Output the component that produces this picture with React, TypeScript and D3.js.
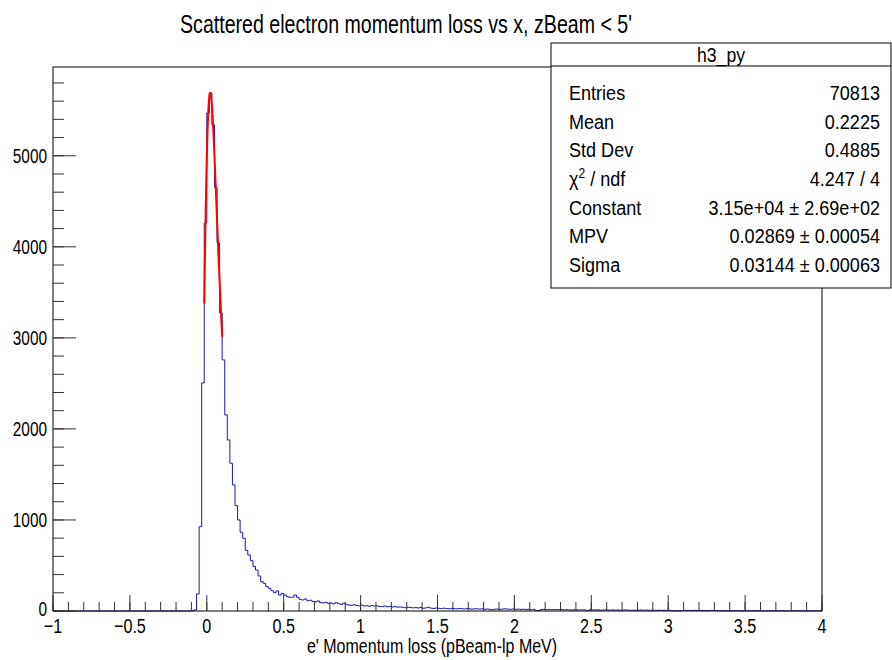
import React from 'react';
import * as d3 from 'd3';

// ---- data ----
const X_MIN = -1;
const X_MAX = 4;
const Y_MAX = 5975;

// 300 bins between -1 and 4
const binCounts: number[] = [
  // bins 0-53
  0, 0, 0, 0, 0, 0, 0, 0, 0, 0,
  0, 0, 0, 0, 0, 0, 0, 0, 0, 0,
  0, 0, 0, 0, 0, 0, 0, 0, 0, 0,
  0, 0, 0, 0, 0, 0, 0, 0, 0, 0,
  0, 0, 0, 0, 0, 0, 0, 0, 0, 0,
  0, 0, 0, 0,
  // bins 54-90
  3, 12, 187, 926, 2505, 4260, 5470, 5690, 5340, 4648,
  4044, 3275, 2758, 2154, 1879, 1623, 1385, 1157, 1000, 865,
  799, 665, 615, 553, 490, 450, 385, 322, 304, 267,
  249, 223, 201, 220, 176, 194, 176,
  // bins 91-299
  157, 150, 152, 176, 150, 128, 121, 132, 113, 118,
  105, 100, 110, 92, 88, 95, 84, 88, 78, 91,
  80, 72, 85, 70, 66, 62, 68, 60, 57, 64,
  55, 58, 52, 60, 54, 57, 50, 48, 55, 46,
  50, 44, 48, 42, 45, 40, 36, 42, 38, 35,
  37, 33, 38, 30, 34, 40, 32, 28, 33, 30,
  26, 31, 28, 25, 29, 27, 24, 28, 25, 22,
  26, 24, 20, 25, 23, 21, 24, 19, 22, 18,
  14, 20, 22, 18, 21, 24, 20, 19, 22, 18,
  21, 17, 20, 16, 19, 15, 18, 6, 5, 16,
  19, 15, 17, 14, 16, 15, 14, 16, 12, 15,
  13, 10, 14, 12, 11, 13, 12, 4, 14, 11,
  12, 13, 9, 10, 12, 11, 10, 12, 9, 11,
  8, 10, 12, 9, 8, 10, 7, 9, 11, 8,
  10, 7, 9, 8, 6, 9, 7, 8, 6, 8,
  3, 2, 3, 2, 4, 8, 6, 7, 5, 8,
  6, 7, 5, 6, 4, 7, 5, 6, 3, 4,
  2, 3, 2, 1, 3, 5, 2, 2, 1, 2,
  3, 1, 2, 4, 2, 1, 2, 1, 3, 1,
  2, 1, 2, 4, 1, 2, 1, 3, 1, 2,
  1, 1, 2, 3, 1, 2, 1, 1, 2,
];

const xMajorTicks = [-1, -0.5, 0, 0.5, 1, 1.5, 2, 2.5, 3, 3.5, 4];
const xTickLabels = ['\u22121', '\u22120.5', '0', '0.5', '1', '1.5', '2', '2.5', '3', '3.5', '4'];
const yMajorTicks = [0, 1000, 2000, 3000, 4000, 5000];
const yTickLabels = ['0', '1000', '2000', '3000', '4000', '5000'];

const titleText = "Scattered electron momentum loss vs x, zBeam < 5'";
const xAxisTitle = "e' Momentum loss (pBeam-lp MeV)";
const statsName = 'h3_py';
const statsLabels = ['Entries', 'Mean', 'Std Dev', 'CHI', 'Constant', 'MPV', 'Sigma'];
const statsValues = ['70813', '0.2225', '0.4885', '4.247 / 4', '3.15e+04 \u00b1 2.69e+02', '0.02869 \u00b1 0.00054', '0.03144 \u00b1 0.00063'];

const fitConstant = 31500;
const fitMPV = 0.02869;
const fitSigma = 0.03144;
const fitRange = [-0.01667, 0.1];

// ---- Landau density (CERNLIB DENLAN) ----
function landauPdf(v: number): number {
  const p1 = [0.4259894875, -0.124976255, 0.039842437, -0.006298287635, 0.001511162253];
  const q1 = [1.0, -0.3388260629, 0.09594393323, -0.01608042283, 0.003778942063];
  const p2 = [0.1788541609, 0.1173957403, 0.01488850518, -0.001394989411, 0.0001283617211];
  const q2 = [1.0, 0.7428795082, 0.3153932961, 0.06694219548, 0.008790609714];
  const p3 = [0.1788544503, 0.09359161662, 0.006325387654, 0.00006611667319, -0.000002031049101];
  const q3 = [1.0, 0.6097809921, 0.2560616665, 0.04746722384, 0.006957301675];
  const p4 = [0.9874054407, 118.6723273, 849.279436, -743.7792444, 427.0262186];
  const q4 = [1.0, 106.8615961, 337.6496214, 2016.712389, 1597.063511];
  const a1 = [0.04166666667, -0.01996527778, 0.02709538966];
  const poly = (c: number[], t: number) => c[0] + (c[1] + (c[2] + (c[3] + c[4] * t) * t) * t) * t;
  if (v < -5.5) {
    const u = Math.exp(v + 1.0);
    if (u < 1e-10) return 0;
    const ue = Math.exp(-1 / u);
    const us = Math.sqrt(u);
    return 0.3989422803 * (ue / us) * (1 + (a1[0] + (a1[1] + a1[2] * u) * u) * u);
  } else if (v < -1) {
    const u = Math.exp(-v - 1);
    return Math.exp(-u) * Math.sqrt(u) * poly(p1, v) / poly(q1, v);
  } else if (v < 1) {
    return poly(p2, v) / poly(q2, v);
  } else if (v < 5) {
    return poly(p3, v) / poly(q3, v);
  } else {
    const u = 1 / v;
    return u * u * poly(p4, u) / poly(q4, u);
  }
}

// ---- layout ----
const W = 892;
const H = 660;
const FL = 53, FR = 822, FT = 67, FB = 611;
const FONT = "'Liberation Sans', Arial, Helvetica, sans-serif";

function CText(props: { x: number; y: number; sx: number; size: number; anchor?: string; children: React.ReactNode; fill?: string }) {
  const { x, y, sx, size, anchor = 'start', children, fill = '#000' } = props;
  return (
    <text
      transform={`translate(${x},${y}) scale(${sx},1)`}
      fontFamily={FONT}
      fontSize={size}
      textAnchor={anchor}
      fill={fill}
    >
      {children}
    </text>
  );
}

export default function App() {
  const x = d3.scaleLinear().domain([X_MIN, X_MAX]).range([FL, FR]);
  const y = d3.scaleLinear().domain([0, Y_MAX]).range([FB, FT]);
  const nb = binCounts.length;
  const bw = (X_MAX - X_MIN) / nb;

  // histogram step path
  const pts: [number, number][] = [[x(X_MIN), y(0)]];
  binCounts.forEach((c, i) => {
    const lo = X_MIN + i * bw;
    const hi = lo + bw;
    pts.push([x(lo), y(c)]);
    pts.push([x(hi), y(c)]);
  });
  pts.push([x(X_MAX), y(0)]);
  const histPath = d3.line()(pts) || '';

  // fit curve
  const fitX = d3.range(0, 101).map((i) => fitRange[0] + (fitRange[1] - fitRange[0]) * i / 100);
  const fitLine = d3.line<number>()
    .x((v) => x(v))
    .y((v) => y(fitConstant * landauPdf((v - fitMPV) / fitSigma)))
    .curve(d3.curveLinear);
  const fitPath = fitLine(fitX) || '';

  const xMinor = d3.range(-1, 4.0001, 0.1);
  const yMinor = d3.range(0, Y_MAX, 200);

  const tickColor = '#333';

  // stats box
  const SB = { x: 551, y: 43, w: 340, h: 245 };
  const rowBase = [100, 128.7, 157.3, 186, 214.7, 243.3, 272];

  return (
    <svg width={W} height={H} style={{ display: 'block', position: 'absolute', left: 0, top: 0, background: '#fff' }}>
      <rect x={0} y={0} width={W} height={H} fill="#fff" />
      {/* title */}
      <CText x={406} y={33} sx={0.74} size={26.5} anchor="middle">{titleText}</CText>

      {/* histogram */}
      <path d={histPath} fill="none" stroke="#1a1ab0" strokeWidth={1} />
      {/* fit */}
      <path d={fitPath} fill="none" stroke="#ff0000" strokeWidth={2} />

      {/* frame */}
      <rect x={FL} y={FT} width={FR - FL} height={FB - FT} fill="none" stroke="#000" strokeWidth={1} />

      {/* x ticks */}
      {xMinor.map((v, i) => (
        <line key={'xm' + i} x1={x(v)} x2={x(v)} y1={FB} y2={FB - 9} stroke={tickColor} strokeWidth={1} />
      ))}
      {xMajorTicks.map((v, i) => (
        <line key={'xM' + i} x1={x(v)} x2={x(v)} y1={FB} y2={FB - 16} stroke={tickColor} strokeWidth={1} />
      ))}
      {xMajorTicks.map((v, i) => (
        <CText key={'xl' + i} x={x(v)} y={633} sx={0.77} size={21} anchor="middle">{xTickLabels[i]}</CText>
      ))}

      {/* y ticks */}
      {yMinor.map((v, i) => (
        <line key={'ym' + i} x1={FL} x2={FL + 11} y1={y(v)} y2={y(v)} stroke={tickColor} strokeWidth={1} />
      ))}
      {yMajorTicks.map((v, i) => (
        <line key={'yM' + i} x1={FL} x2={FL + 23} y1={y(v)} y2={y(v)} stroke={tickColor} strokeWidth={1} />
      ))}
      {yMajorTicks.map((v, i) => (
        <CText key={'yl' + i} x={47} y={y(v) + (v === 0 ? 5 : 7.5)} sx={0.77} size={20} anchor="end">{yTickLabels[i]}</CText>
      ))}

      {/* x axis title */}
      <CText x={432} y={653} sx={0.8} size={20} anchor="middle">{xAxisTitle}</CText>

      {/* stats box */}
      <rect x={SB.x} y={SB.y} width={SB.w} height={SB.h} fill="#fff" stroke="#000" strokeWidth={1} />
      <line x1={SB.x} x2={SB.x + SB.w} y1={66} y2={66} stroke="#000" strokeWidth={1} />
      <CText x={721} y={61.5} sx={0.86} size={20.5} anchor="middle">{statsName}</CText>
      {statsLabels.map((lab, i) => (
        <CText key={'sl' + i} x={569} y={rowBase[i]} sx={0.86} size={21} anchor="start">
          {lab === 'CHI' ? (
            <>
              <tspan>{'\u03c7'}</tspan>
              <tspan fontSize={14} dy={-8}>2</tspan>
              <tspan dy={8}>{' / ndf'}</tspan>
            </>
          ) : lab}
        </CText>
      ))}
      {statsValues.map((val, i) => (
        <CText key={'sv' + i} x={880} y={rowBase[i]} sx={0.86} size={21} anchor="end">{val}</CText>
      ))}
    </svg>
  );
}
